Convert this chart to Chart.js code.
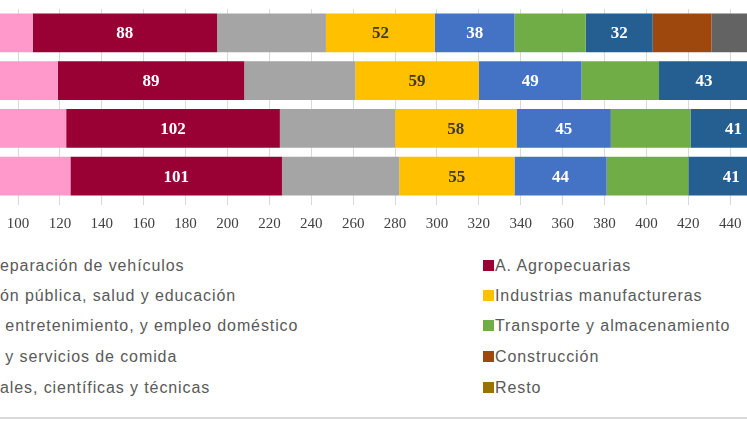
<!DOCTYPE html>
<html>
<head>
<meta charset="utf-8">
<script src="https://cdn.jsdelivr.net/npm/chart.js@4.4.1/dist/chart.umd.min.js"></script>
<style>
  html, body { margin: 0; padding: 0; background: #fff; }
  #wrap { position: relative; width: 747px; height: 427px; overflow: hidden; }
  #box { position: absolute; left: 0; top: 0; width: 747px; height: 235px; }
  .leg { position: absolute; font: 16px "Liberation Sans", Arial, sans-serif; color: #595959;
         letter-spacing: 0.9px; white-space: pre; line-height: 18px; }
  .mk { position: absolute; width: 11px; height: 11px; }
  #rule { position: absolute; left: 0; top: 417px; width: 747px; height: 2px; background: #d9d9d9; }
</style>
</head>
<body>
<div id="wrap">
  <div id="box"><canvas id="c"></canvas></div>
  <div id="legend"></div>
  <div id="rule"></div>
</div>
<script>
"use strict";
// Stacked employment-by-sector bars (the source picture is cropped on the left,
// so the axis starts just below 100 and the left legend column is cut off).

const ROWS = ["1", "2", "3", "4"];           // category labels are cropped away
const TICKS = [100, 120, 140, 160, 180, 200, 220, 240, 260, 280, 300, 320, 340, 360, 380, 400, 420, 440];

const comercio      = [107, 119, 123, 125];
const agro          = [88, 89, 102, 101];
const adminPublica  = [52, 53, 55, 56];
const industrias    = [52, 59, 58, 55];
const entretenim    = [38, 49, 45, 44];
const transporte    = [34, 37, 38, 39];
const alojamiento   = [32, 43, 41, 41];
const construccion  = [28, 27, 27, 28];
const profesionales = [30, 29, 30, 31];
const resto         = [60, 58, 60, 62];

// legend text as it appears (left column is cut by the crop)
const NAMES = [
  "eparación de vehículos", "A. Agropecuarias",
  "ón pública, salud y educación", "Industrias manufactureras",
  " entretenimiento, y empleo doméstico", "Transporte y almacenamiento",
  " y servicios de comida", "Construcción",
  "ales, científicas y técnicas", "Resto",
];
const COLORS = ["#ff99cc", "#990033", "#a5a5a5", "#ffc000", "#4472c4",
                "#70ad47", "#255e91", "#9e480e", "#636363", "#997300"];
const SERIES = [comercio, agro, adminPublica, industrias, entretenim,
                transporte, alojamiento, construccion, profesionales, resto];
const LABELED = { 1: "#ffffff", 3: "#3a3a3a", 4: "#ffffff", 6: "#ffffff" }; // dataset -> label colour

const barLabels = {
  id: "barLabels",
  afterDatasetsDraw(chart) {
    const ctx = chart.ctx;
    ctx.save();
    ctx.font = 'bold 17px "Liberation Serif", serif';
    ctx.textAlign = "center";
    ctx.textBaseline = "middle";
    for (const [i, col] of Object.entries(LABELED)) {
      const meta = chart.getDatasetMeta(+i);
      ctx.fillStyle = col;
      meta.data.forEach((el, j) => {
        ctx.fillText(String(SERIES[i][j]), (el.x + el.base) / 2, el.y + 1);
      });
    }
    ctx.restore();
  },
};

new Chart(document.getElementById("c"), {
  type: "bar",
  data: {
    labels: ROWS,
    datasets: SERIES.map((d, i) => ({
      label: NAMES[i], data: d, backgroundColor: COLORS[i], borderWidth: 0,
      barPercentage: 0.81, categoryPercentage: 1,
    })),
  },
  options: {
    indexAxis: "y", responsive: true, maintainAspectRatio: false, animation: false,
    layout: { padding: { top: 9, left: 0, right: 0, bottom: 0 } },
    scales: {
      x: {
        stacked: true, min: 91.4, max: 448,
        afterBuildTicks: (s) => { s.ticks = TICKS.map(v => ({ value: v })); },
        afterFit: (s) => { s.height = 35; s.paddingLeft = 0; s.paddingRight = 0; },
        grid: { color: "#d9d9d9", tickLength: 5, drawTicks: true },
        border: { display: false },
        ticks: { color: "#404040", padding: 10, maxRotation: 0, autoSkip: false,
                 font: { family: "Liberation Serif", size: 15 } },
      },
      y: { stacked: true, display: false },
    },
    plugins: { legend: { display: false }, tooltip: { enabled: false } },
  },
  plugins: [barLabels],
});

// two-column legend below the plot, row-wise like the original
const legend = document.getElementById("legend");
const ROW_Y = [266, 296, 326, 357, 388];
NAMES.forEach((name, i) => {
  const row = Math.floor(i / 2), right = i % 2 === 1;
  const y = ROW_Y[row];
  if (right) {
    const mk = document.createElement("div");
    mk.className = "mk";
    mk.style.left = "483px"; mk.style.top = (y - 6) + "px"; mk.style.background = COLORS[i];
    legend.appendChild(mk);
  }
  const t = document.createElement("div");
  t.className = "leg";
  t.textContent = name;
  t.style.left = right ? "495px" : "0px";
  t.style.top = (y - 9) + "px";
  legend.appendChild(t);
});
</script>
</body>
</html>
